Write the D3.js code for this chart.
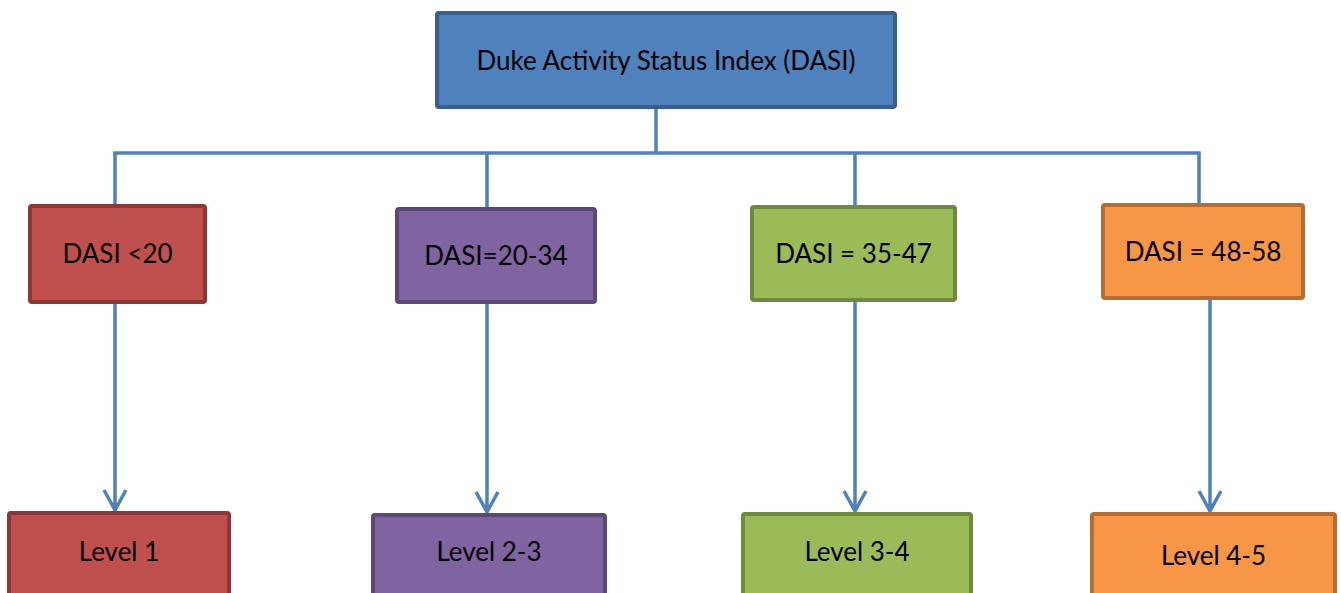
<!DOCTYPE html>
<html>
<head>
<meta charset="utf-8">
<script src="https://cdn.jsdelivr.net/npm/d3@7"></script>
<style>
	body { margin: 0; background: #fff; }
	svg { display: block; font-family: Lato, 'Open Sans', sans-serif; }
</style>
</head>
<body>
<div id="chart"></div>
<script>
// diagram content
const rootLabel = 'Duke Activity Status Index (DASI)'
const categories = ['DASI <20', 'DASI=20-34', 'DASI = 35-47', 'DASI = 48-58']
const levels = ['Level 1', 'Level 2-3', 'Level 3-4', 'Level 4-5']
const fills = ['#c0504d', '#8064a2', '#9bbb59', '#f79646']
const strokes = ['#8c3836', '#5c4776', '#71893f', '#b66d31']

const width = 1341
const height = 593
const lineColor = '#4f81bd'

// layout of the columns (outer box edges)
const midLeft = d3.scaleOrdinal().domain(categories).range([28, 395, 750, 1101])
const midRight = d3.scaleOrdinal().domain(categories).range([207, 597, 957, 1305])
const midTop = d3.scaleOrdinal().domain(categories).range([204, 207, 205, 203])
const midBottom = d3.scaleOrdinal().domain(categories).range([304, 304, 302, 300])
const linkX = d3.scaleOrdinal().domain(categories).range([115, 487, 855, 1199])
const arrowX = d3.scaleOrdinal().domain(levels).range([115, 487, 855, 1210])
const lowLeft = d3.scaleOrdinal().domain(levels).range([7, 371, 741, 1090])
const lowRight = d3.scaleOrdinal().domain(levels).range([231, 607, 973, 1337])
const lowTop = d3.scaleOrdinal().domain(levels).range([511, 513, 512, 512])
const lowText = d3.scaleOrdinal().domain(levels).range([552, 552, 552, 556])

const root = { x0: 435, x1: 897, y0: 11, y1: 109 }
const busY = 153
const bw = 4
const fontSize = 26

const svg = d3.select('#chart').append('svg')
	.attr('width', width)
	.attr('height', height)

// connectors
const links = svg.append('g')
	.attr('stroke', lineColor)
	.attr('stroke-width', 3.5)
	.attr('fill', 'none')

links.append('line')
	.attr('x1', (root.x0 + root.x1) / 2 - 10).attr('x2', (root.x0 + root.x1) / 2 - 10)
	.attr('y1', root.y1).attr('y2', busY)

links.append('line')
	.attr('x1', linkX(categories[0]) - 1.75).attr('x2', linkX(categories[3]) + 1.75)
	.attr('y1', busY).attr('y2', busY)

links.selectAll('line.drop')
	.data(categories)
	.enter()
	.append('line')
	.attr('class', 'drop')
	.attr('x1', d => linkX(d)).attr('x2', d => linkX(d))
	.attr('y1', busY).attr('y2', d => midTop(d))

links.selectAll('path.arrow')
	.data(levels)
	.enter()
	.append('path')
	.attr('class', 'arrow')
	.attr('d', (d, i) => {
		const x = arrowX(d)
		const y0 = midBottom(categories[i])
		const tip = lowTop(d)
		return `M${x},${y0}V${tip - 1}M${x - 11},${tip - 21}L${x},${tip - 1}L${x + 11},${tip - 21}`
	})

// boxes
function box(g, x0, x1, y0, y1, fill, stroke) {
	g.append('rect')
		.attr('x', x0 + bw / 2)
		.attr('y', y0 + bw / 2)
		.attr('width', x1 - x0 - bw)
		.attr('height', y1 - y0 - bw)
		.attr('rx', 2)
		.attr('fill', fill)
		.attr('stroke', stroke)
		.attr('stroke-width', bw)
}

const rootGroup = svg.append('g')
box(rootGroup, root.x0, root.x1, root.y0, root.y1, '#4f81bd', '#3b5f8c')
rootGroup.append('text')
	.attr('x', (root.x0 + root.x1) / 2)
	.attr('y', (root.y0 + root.y1) / 2 + 1)
	.attr('dy', '0.35em')
	.attr('text-anchor', 'middle')
	.attr('font-size', fontSize)
	.text(rootLabel)

categories.forEach((c, i) => {
	const g = svg.append('g')
	box(g, midLeft(c), midRight(c), midTop(c), midBottom(c), fills[i], strokes[i])
	g.append('text')
		.attr('x', (midLeft(c) + midRight(c)) / 2)
		.attr('y', (midTop(c) + midBottom(c)) / 2)
		.attr('dy', '0.35em')
		.attr('text-anchor', 'middle')
		.attr('font-size', fontSize)
		.text(c)
})

levels.forEach((l, i) => {
	const g = svg.append('g')
	box(g, lowLeft(l), lowRight(l), lowTop(l), lowTop(l) + 100, fills[i], strokes[i])
	g.append('text')
		.attr('x', (lowLeft(l) + lowRight(l)) / 2)
		.attr('y', lowText(l))
		.attr('dy', '0.35em')
		.attr('text-anchor', 'middle')
		.attr('font-size', fontSize)
		.text(l)
})
</script>
</body>
</html>
